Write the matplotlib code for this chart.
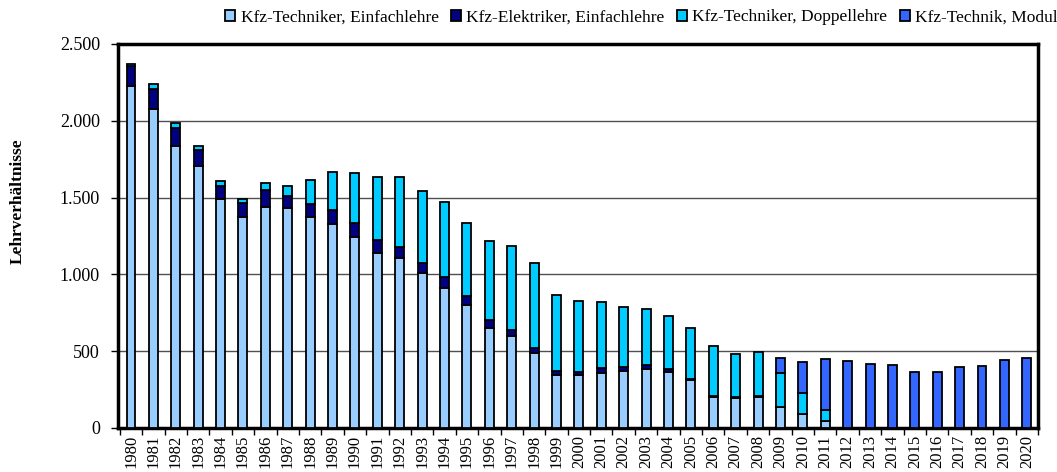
import matplotlib
matplotlib.use("Agg")
import matplotlib.pyplot as plt
import numpy as np

years = [str(y) for y in range(1980, 2021)]
einfach = [2227, 2075, 1836, 1708, 1489, 1372, 1441, 1430, 1376, 1330,
           1243, 1137, 1105, 1009, 909, 801, 653, 599, 486, 345,
           343, 360, 369, 382, 362, 312, 202, 195, 200, 139,
           89, 45, 0, 0, 0, 0, 0, 0, 0, 0, 0]
elektriker = [130, 132, 117, 100, 88, 91, 110, 78, 84, 89,
              92, 85, 75, 67, 74, 58, 48, 37, 35, 26,
              24, 29, 28, 26, 24, 10, 8, 6, 6, 0,
              0, 0, 0, 0, 0, 0, 0, 0, 0, 0, 0]
doppel = [10, 30, 31, 30, 33, 26, 42, 67, 155, 246,
          323, 414, 452, 467, 486, 474, 518, 549, 551, 495,
          460, 431, 389, 365, 345, 329, 326, 283, 289, 217,
          137, 75, 0, 0, 0, 0, 0, 0, 0, 0, 0]
modul = [0, 0, 0, 0, 0, 0, 0, 0, 0, 0,
         0, 0, 0, 0, 0, 0, 0, 0, 0, 0,
         0, 0, 0, 0, 0, 0, 0, 0, 0, 100,
         206, 327, 434, 419, 410, 365, 362, 397, 402, 443, 456]
series_names = ["Kfz-Techniker, Einfachlehre", "Kfz-Elektriker, Einfachlehre",
                "Kfz-Techniker, Doppellehre", "Kfz-Technik, Modul"]
colors = ["#99CCFF", "#000080", "#00CCFF", "#3366FF"]
yticks = [0, 500, 1000, 1500, 2000, 2500]
ytick_labels = ["0", "500", "1.000", "1.500", "2.000", "2.500"]

plt.rcParams['font.family'] = ['Liberation Serif', 'DejaVu Serif']

fig = plt.figure(figsize=(10.57, 4.72), dpi=100)
ax = fig.add_axes([118/1057, 1-428/472, (1038-118)/1057, (428-44)/472])

x = np.arange(len(years))
bottom = np.zeros(len(years))
handles = []
for name, vals, c in zip(series_names, [einfach, elektriker, doppel, modul], colors):
    v = np.array(vals, dtype=float)
    mask = v > 0
    b = ax.bar(x[mask], v[mask], bottom=bottom[mask], width=0.4, color=c,
               edgecolor='black', linewidth=1.3, zorder=3, label=name)
    handles.append(b)
    bottom += v

ax.set_xlim(-0.58, 40.5)
ax.set_ylim(0, 2500)
ax.set_yticks(yticks)
ax.set_yticklabels(ytick_labels, fontsize=13)
ax.set_xticks(x)
ax.set_xticklabels(years, rotation=90, fontsize=12)
ax.tick_params(axis='x', length=0, pad=5)
ax.set_xticks(np.arange(-0.5, 40.6, 1), minor=True)
ax.tick_params(axis='x', which='minor', length=5, width=1, direction='out')
ax.tick_params(axis='y', length=5, width=1, direction='out', pad=8)
for y in yticks[1:-1]:
    ax.axhline(y, color='#505050', linewidth=1, zorder=1)
for s in ax.spines.values():
    s.set_linewidth(2.5)
    s.set_color('black')
ax.set_ylabel("Lehrverhältnisse", fontsize=12.5, fontweight='bold')
ax.yaxis.set_label_coords((26-118)/920, (428-201)/384)

fig.legend(handles=handles, labels=series_names, loc='upper left',
           bbox_to_anchor=(218/1057, 0.995), ncol=4, frameon=False,
           fontsize=12.5, handlelength=0.6, handleheight=0.6,
           handletextpad=0.3, columnspacing=0.7, borderaxespad=0)

fig.savefig("out.png", dpi=100)
